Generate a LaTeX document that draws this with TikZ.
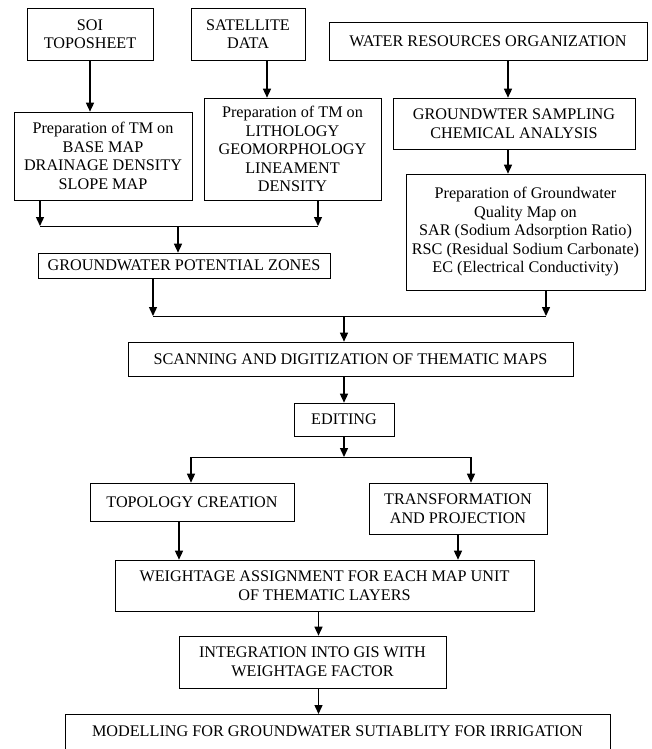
\documentclass[tikz,border=0pt]{standalone}
\usepackage{fontspec}
\setmainfont{Liberation Serif}
\usetikzlibrary{%
  arrows,%
  arrows.meta,%
  positioning,% wg. " of "
  calc
}

\begin{document}
\begin{tikzpicture}
[x=1pt, y=-1pt, draw=black, line width=0.6pt,
stage/.style={rectangle, draw, fill=white, inner sep=0pt, align=center, font=\fontsize{16.2}{18.5}\selectfont},
flow/.style={-{Triangle[length=9pt,width=8pt]}, line width=1.4pt}]

\useasboundingbox (0,0) rectangle (651,749);
\clip (0,0) rectangle (651,749);

\node[stage, minimum width=126pt, minimum height=52pt] (soi) at (90,34) {SOI\\TOPOSHEET};
\node[stage, minimum width=114pt, minimum height=52pt] (satellite) at (248,34) {SATELLITE\\DATA};
\node[stage, minimum width=318pt, minimum height=38pt] (waterres) at (488,41) {WATER RESOURCES ORGANIZATION};

\node[stage, minimum width=178pt, minimum height=88pt] (prepbase) at (103,156) {Preparation of TM on\\BASE MAP\\DRAINAGE DENSITY\\SLOPE MAP};
\node[stage, minimum width=177pt, minimum height=102pt] (preplitho) at (292.5,149) {Preparation of TM on\\LITHOLOGY\\GEOMORPHOLOGY\\LINEAMENT\\DENSITY};
\node[stage, minimum width=242pt, minimum height=51pt] (sampling) at (514,123.5) {GROUNDWTER SAMPLING\\CHEMICAL ANALYSIS};
\node[stage, minimum width=239pt, minimum height=116pt] (prepquality) at (525.5,232) {Preparation of Groundwater\\Quality Map on\\SAR (Sodium Adsorption Ratio)\\RSC (Residual Sodium Carbonate)\\EC (Electrical Conductivity)};

\node[stage, minimum width=292pt, minimum height=25pt] (gpz) at (184,265.5) {GROUNDWATER POTENTIAL ZONES};
\node[stage, minimum width=445pt, minimum height=34pt] (scanning) at (350.5,359) {SCANNING AND DIGITIZATION OF THEMATIC MAPS};
\node[stage, minimum width=100pt, minimum height=33pt] (editing) at (344,419.5) {EDITING};

\node[stage, minimum width=204pt, minimum height=38pt] (topology) at (192,502) {TOPOLOGY CREATION};
\node[stage, minimum width=178pt, minimum height=51pt] (transform) at (458,508.5) {TRANSFORMATION\\AND PROJECTION};
\node[stage, minimum width=419pt, minimum height=51pt] (weightage) at (324.5,585.5) {WEIGHTAGE ASSIGNMENT FOR EACH MAP UNIT\\OF THEMATIC LAYERS};
\node[stage, minimum width=267pt, minimum height=52pt] (integration) at (312.5,662) {INTEGRATION INTO GIS WITH\\WEIGHTAGE FACTOR};
\node[stage, minimum width=545pt, text height=22pt, text depth=40pt, anchor=north] (modelling) at (337.5,714) {MODELLING FOR GROUNDWATER SUTIABLITY FOR IRRIGATION};

% joints
\coordinate (basejoin) at (40,226);
\coordinate (lithojoin) at (318,226);
\coordinate (gpzjoin) at (178,226);
\coordinate (zonejoin) at (153,316);
\coordinate (qualityjoin) at (546,316);
\coordinate (scanjoin) at (344,316);
\coordinate (editjoin) at (344,457);
\coordinate (topojoin) at (191,457);
\coordinate (transjoin) at (471,457);

% top row
\draw[flow] (soi.south) -- (soi.south |- prepbase.north);
\draw[flow] ([xshift=19pt]satellite.south) -- ([xshift=19pt]satellite.south |- preplitho.north);
\draw[flow] ([xshift=20pt]waterres.south) -- ([xshift=20pt]waterres.south |- sampling.north);
\draw[flow] ([xshift=-6pt]sampling.south) -- ([xshift=-6pt]sampling.south |- prepquality.north);

% into potential zones
\draw[flow] (prepbase.south -| basejoin) -- (basejoin);
\draw[flow] (preplitho.south -| lithojoin) -- (lithojoin);
\draw (basejoin) -- (lithojoin);
\draw[flow] (gpzjoin) -- (gpzjoin |- gpz.north);

% into scanning
\draw[flow] (gpz.south -| zonejoin) -- (zonejoin);
\draw[flow] (prepquality.south -| qualityjoin) -- (qualityjoin);
\draw (zonejoin) -- (qualityjoin);
\draw[flow] (scanjoin) -- (scanjoin |- scanning.north);

\draw[flow] (editing.north |- scanning.south) -- (editing.north);

% editing splits
\draw[flow] (editing.south) -- (editjoin);
\draw (topojoin) -- (transjoin);
\draw[flow] (topojoin) -- (topology.north -| topojoin);
\draw[flow] (transjoin) -- (transform.north -| transjoin);

% down to modelling
\draw[flow] ([xshift=-13pt]topology.south) -- ([xshift=-13pt]topology.south |- weightage.north);
\draw[flow] (transform.south) -- (transform.south |- weightage.north);
\draw[flow] ([xshift=-6pt]weightage.south) -- ([xshift=-6pt]weightage.south |- integration.north);
\draw[flow] ([xshift=6pt]integration.south) -- ([xshift=6pt]integration.south |- modelling.north);
\end{tikzpicture}
\end{document}
